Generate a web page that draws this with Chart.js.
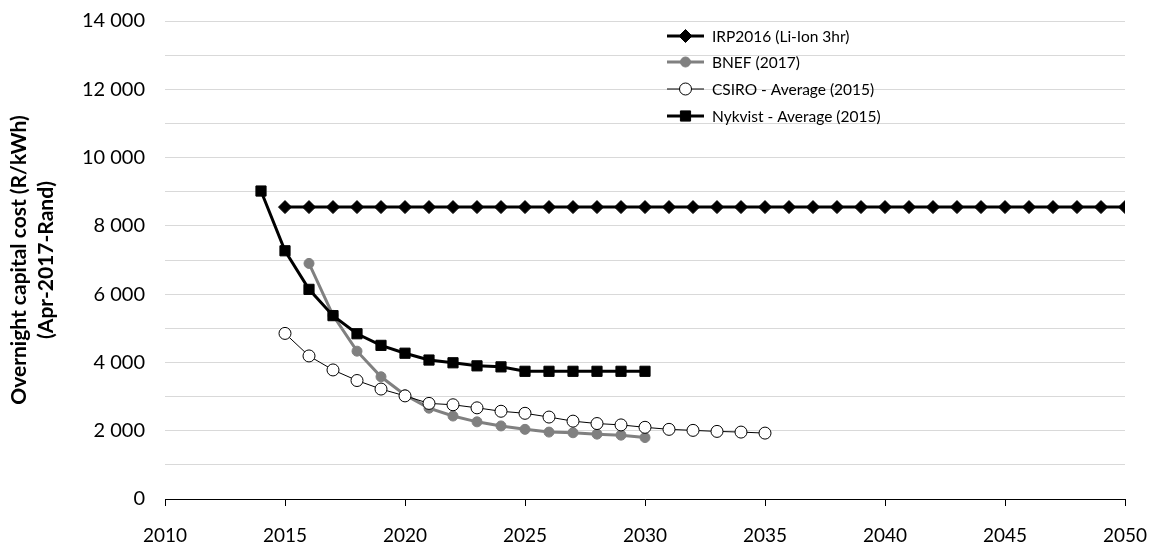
<!DOCTYPE html>
<html>
<head>
<meta charset="utf-8">
<script src="https://cdn.jsdelivr.net/npm/chart.js@4"></script>
<style>
  html, body { margin: 0; padding: 0; background: #fff; }
  #wrap { width: 1156px; height: 547px; }
</style>
</head>
<body>
<div id="wrap"><canvas id="costChart" width="1156" height="547"></canvas></div>
<script>
// years for each series
var irpYears = [2015, 2016, 2017, 2018, 2019, 2020, 2021, 2022, 2023, 2024, 2025, 2026, 2027, 2028, 2029, 2030,
  2031, 2032, 2033, 2034, 2035, 2036, 2037, 2038, 2039, 2040, 2041, 2042, 2043, 2044, 2045, 2046, 2047, 2048, 2049, 2050];
var irpCost = [8550, 8550, 8550, 8550, 8550, 8550, 8550, 8550, 8550, 8550, 8550, 8550, 8550, 8550, 8550, 8550,
  8550, 8550, 8550, 8550, 8550, 8550, 8550, 8550, 8550, 8550, 8550, 8550, 8550, 8550, 8550, 8550, 8550, 8550, 8550, 8550];

var bnefYears = [2016, 2017, 2018, 2019, 2020, 2021, 2022, 2023, 2024, 2025, 2026, 2027, 2028, 2029, 2030];
var bnefCost = [6900, 5380, 4330, 3580, 3050, 2660, 2430, 2260, 2140, 2040, 1960, 1940, 1900, 1870, 1800];

var csiroYears = [2015, 2016, 2017, 2018, 2019, 2020, 2021, 2022, 2023, 2024, 2025, 2026, 2027, 2028, 2029, 2030,
  2031, 2032, 2033, 2034, 2035];
var csiroCost = [4850, 4190, 3780, 3470, 3220, 3020, 2800, 2760, 2670, 2570, 2510, 2400, 2280, 2210, 2170, 2100,
  2040, 2010, 1980, 1960, 1930];

var nykYears = [2014, 2015, 2016, 2017, 2018, 2019, 2020, 2021, 2022, 2023, 2024, 2025, 2026, 2027, 2028, 2029, 2030];
var nykCost = [9020, 7270, 6140, 5370, 4840, 4500, 4270, 4070, 3990, 3900, 3870, 3740, 3740, 3740, 3740, 3740, 3740];

var xTicks = [2010, 2015, 2020, 2025, 2030, 2035, 2040, 2045, 2050];
var yTicks = [0, 2000, 4000, 6000, 8000, 10000, 12000, 14000];

function pts(xs, ys) {
  return xs.map(function (x, i) { return { x: x, y: ys[i] }; });
}
function fmt(v) {
  return String(v).replace(/\B(?=(\d{3})+(?!\d))/g, ' ');
}

var FONT = 'Lato, "Open Sans", sans-serif';

function drawMark(ctx, ds, x, y) {
  ctx.fillStyle = ds.pointBackgroundColor;
  ctx.strokeStyle = ds.pointBorderColor;
  ctx.lineWidth = ds.pointBorderWidth;
  Chart.helpers.drawPoint(ctx, {
    pointStyle: ds.pointStyle,
    radius: ds.pointRadius,
    borderWidth: ds.pointBorderWidth
  }, x, y);
}

// legend drawn inside the plot, like the original
var insideLegend = {
  id: 'insideLegend',
  afterDraw: function (chart) {
    var ctx = chart.ctx;
    var x0 = 667, x1 = 704, tx = 712;
    var rows = [36, 62, 89, 116];
    ctx.save();
    ctx.font = '15.5px ' + FONT;
    ctx.textBaseline = 'middle';
    chart.data.datasets.forEach(function (ds, i) {
      var y = rows[i];
      ctx.strokeStyle = ds.borderColor;
      ctx.lineWidth = ds.borderWidth;
      ctx.beginPath();
      ctx.moveTo(x0, y);
      ctx.lineTo(x1, y);
      ctx.stroke();
      drawMark(ctx, ds, (x0 + x1) / 2, y);
      ctx.fillStyle = '#000';
      ctx.fillText(ds.label, tx, y + 1);
    });
    ctx.restore();
  }
};

var ctx = document.getElementById('costChart').getContext('2d');
new Chart(ctx, {
  type: 'line',
  data: {
    datasets: [{
      label: 'IRP2016 (Li-Ion 3hr)',
      data: pts(irpYears, irpCost),
      order: 3,
      borderColor: '#000',
      borderWidth: 3,
      pointStyle: 'rectRot',
      pointRadius: 6.5,
      pointBackgroundColor: '#000',
      pointBorderColor: '#000',
      pointBorderWidth: 1
    }, {
      label: 'BNEF (2017)',
      data: pts(bnefYears, bnefCost),
      order: 2,
      borderColor: '#808080',
      borderWidth: 3,
      pointStyle: 'circle',
      pointRadius: 5,
      pointBackgroundColor: '#808080',
      pointBorderColor: '#808080',
      pointBorderWidth: 1
    }, {
      label: 'CSIRO - Average (2015)',
      data: pts(csiroYears, csiroCost),
      order: 1,
      borderColor: '#000',
      borderWidth: 1,
      pointStyle: 'circle',
      pointRadius: 6,
      pointBackgroundColor: '#fff',
      pointBorderColor: '#000',
      pointBorderWidth: 1
    }, {
      label: 'Nykvist - Average (2015)',
      data: pts(nykYears, nykCost),
      order: 0,
      borderColor: '#000',
      borderWidth: 3,
      pointStyle: 'rect',
      pointRadius: 7.2,
      pointBackgroundColor: '#000',
      pointBorderColor: '#000',
      pointBorderWidth: 1
    }]
  },
  options: {
    responsive: false,
    animation: false,
    layout: { padding: { top: 21, right: 31, left: 4, bottom: 0 } },
    plugins: {
      legend: { display: false },
      tooltip: { enabled: false }
    },
    scales: {
      x: {
        type: 'linear',
        min: 2010,
        max: 2050,
        afterBuildTicks: function (axis) {
          axis.ticks = xTicks.map(function (v) { return { value: v }; });
        },
        afterFit: function (axis) {
          axis.height = 48;
          axis.paddingLeft = 0;
          axis.paddingRight = 0;
        },
        grid: { drawOnChartArea: false, drawTicks: true, tickLength: 7, color: '#000' },
        border: { display: true, color: '#000', width: 1 },
        ticks: {
          color: '#000',
          font: { family: FONT, size: 19 },
          padding: 18,
          maxRotation: 0,
          callback: function (v) { return String(v); }
        }
      },
      y: {
        min: 0,
        max: 14000,
        afterBuildTicks: function (axis) {
          var t = [];
          for (var v = 0; v <= 14000; v += 1000) t.push({ value: v });
          axis.ticks = t;
        },
        afterFit: function (axis) {
          axis.width = 161;
          axis.paddingTop = 0;
          axis.paddingBottom = 0;
        },
        grid: { color: '#d9d9d9', lineWidth: 1, drawTicks: false },
        border: { display: false },
        ticks: {
          color: '#000',
          font: { family: FONT, size: 20 },
          padding: 20,
          autoSkip: false,
          callback: function (v) { return yTicks.indexOf(v) >= 0 ? fmt(v) : ''; }
        },
        title: {
          display: true,
          text: ['Overnight capital cost (R/kWh)', '(Apr-2017-Rand)'],
          color: '#000',
          font: { family: FONT, size: 21, weight: 'bold', lineHeight: 1.29 },
          padding: { top: 2, bottom: 0 }
        }
      }
    }
  },
  plugins: [insideLegend]
});
</script>
</body>
</html>
